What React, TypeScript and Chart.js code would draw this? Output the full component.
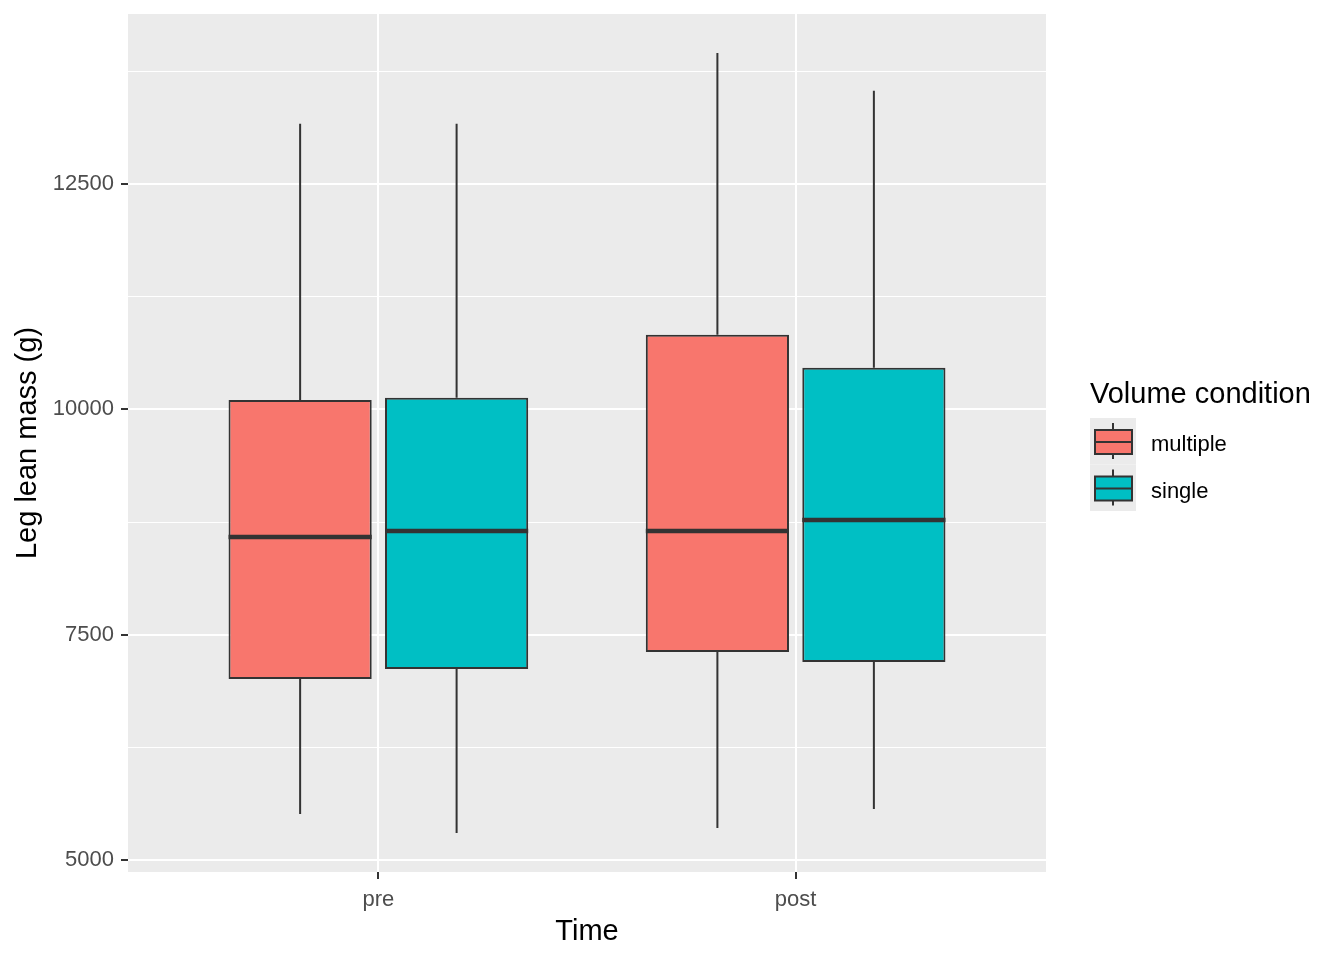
import React, { useEffect, useRef } from 'react';
import { Chart, registerables } from 'chart.js';

Chart.register(...registerables);

// ---- data ----
const times = ['pre', 'post'];
const groups = ['multiple', 'single'];
const groupColors = ['#F8766D', '#00BFC4'];

const multipleLower = [5511, 5355];
const multipleQ1 = [7009, 7309];
const multipleMedian = [8583, 8652];
const multipleQ3 = [10104, 10828];
const multipleUpper = [13170, 13954];

const singleLower = [5300, 5566];
const singleQ1 = [7120, 7198];
const singleMedian = [8652, 8774];
const singleQ3 = [10128, 10461];
const singleUpper = [13170, 13536];

const yMajorTicks = [5000, 7500, 10000, 12500];
const yMinorTicks = [6250, 8750, 11250, 13750];

const xTitle = 'Time';
const yTitle = 'Leg lean mass (g)';
const legendTitle = 'Volume condition';

const stats = [
  { lower: multipleLower, q1: multipleQ1, median: multipleMedian, q3: multipleQ3, upper: multipleUpper },
  { lower: singleLower, q1: singleQ1, median: singleMedian, q3: singleQ3, upper: singleUpper },
];

const FONT = '"Liberation Sans", Arial, sans-serif';
const EDGE = '#333333';
const PANEL = '#EBEBEB';

const allVals = [...multipleLower, ...multipleUpper, ...singleLower, ...singleUpper];
const dMin = Math.min(...allVals);
const dMax = Math.max(...allVals);
const yMin = dMin - 0.05 * (dMax - dMin);
const yMax = dMax + 0.05 * (dMax - dMin);

const boxPlugin = {
  id: 'boxExtras',
  beforeDraw(chart: any) {
    const { ctx, chartArea: a } = chart;
    ctx.save();
    ctx.fillStyle = '#FFFFFF';
    ctx.fillRect(0, 0, chart.width, chart.height);
    ctx.fillStyle = PANEL;
    ctx.fillRect(a.left, a.top, a.right - a.left, a.bottom - a.top);
    ctx.restore();
  },
  beforeDatasetsDraw(chart: any) {
    const { ctx } = chart;
    const y = chart.scales.y;
    ctx.save();
    ctx.strokeStyle = EDGE;
    ctx.lineWidth = 2;
    stats.forEach((s, di) => {
      const meta = chart.getDatasetMeta(di);
      meta.data.forEach((el: any, i: number) => {
        ctx.beginPath();
        ctx.moveTo(el.x, y.getPixelForValue(s.upper[i]));
        ctx.lineTo(el.x, y.getPixelForValue(s.q3[i]));
        ctx.moveTo(el.x, y.getPixelForValue(s.q1[i]));
        ctx.lineTo(el.x, y.getPixelForValue(s.lower[i]));
        ctx.stroke();
      });
    });
    ctx.restore();
  },
  afterDatasetsDraw(chart: any) {
    const { ctx } = chart;
    const y = chart.scales.y;
    ctx.save();
    ctx.strokeStyle = EDGE;
    ctx.lineWidth = 4.5;
    stats.forEach((s, di) => {
      const meta = chart.getDatasetMeta(di);
      meta.data.forEach((el: any, i: number) => {
        const py = y.getPixelForValue(s.median[i]);
        ctx.beginPath();
        ctx.moveTo(el.x - el.width / 2, py);
        ctx.lineTo(el.x + el.width / 2, py);
        ctx.stroke();
      });
    });
    ctx.restore();
  },
  afterDraw(chart: any) {
    const { ctx } = chart;
    ctx.save();
    ctx.fillStyle = '#000000';
    ctx.textBaseline = 'middle';
    ctx.textAlign = 'left';
    ctx.font = `29px ${FONT}`;
    ctx.fillText(legendTitle, 1090, 395);
    const keyX = 1090;
    const keyW = 46;
    const keyH = 46.5;
    const top0 = 418;
    groups.forEach((g, i) => {
      const kt = top0 + i * keyH;
      ctx.fillStyle = PANEL;
      ctx.fillRect(keyX, kt, keyW, keyH);
      const cx = keyX + 23;
      ctx.strokeStyle = EDGE;
      ctx.lineWidth = 2;
      ctx.beginPath();
      ctx.moveTo(cx, kt + 5);
      ctx.lineTo(cx, kt + 12);
      ctx.moveTo(cx, kt + 36);
      ctx.lineTo(cx, kt + 41);
      ctx.stroke();
      ctx.fillStyle = groupColors[i];
      ctx.fillRect(keyX + 5, kt + 12, 37, 24);
      ctx.strokeRect(keyX + 5, kt + 12, 37, 24);
      ctx.beginPath();
      ctx.moveTo(keyX + 5, kt + 24);
      ctx.lineTo(keyX + 42, kt + 24);
      ctx.stroke();
      ctx.fillStyle = '#000000';
      ctx.font = `22px ${FONT}`;
      ctx.fillText(g, 1151, kt + 27);
    });
    ctx.restore();
  },
};

export default function App() {
  const ref = useRef<HTMLCanvasElement>(null);

  useEffect(() => {
    if (!ref.current) return;
    Chart.defaults.font.family = FONT;
    const datasets = groups.map((g, gi) => ({
      label: g,
      data: times.map((_, i) => ({ x: i + 1, y: [stats[gi].q1[i], stats[gi].q3[i]] })),
      backgroundColor: groupColors[gi],
      borderColor: EDGE,
      borderWidth: 2,
      borderSkipped: false,
      categoryPercentage: 0.75,
      barPercentage: 0.915,
    }));

    const chart = new Chart(ref.current, {
      type: 'bar',
      data: { datasets } as any,
      plugins: [boxPlugin],
      options: {
        responsive: false,
        animation: false,
        devicePixelRatio: 1,
        layout: { padding: { left: 0, top: 14, right: 298, bottom: 0 } },
        plugins: { legend: { display: false }, tooltip: { enabled: false } },
        scales: {
          x: {
            type: 'linear',
            min: 0.4,
            max: 2.6,
            offset: false,
            afterBuildTicks: (scale: any) => {
              scale.ticks = times.map((_, i) => ({ value: i + 1 }));
            },
            afterFit: (scale: any) => {
              scale.height = 88;
              scale.paddingLeft = 0;
              scale.paddingRight = 0;
              scale.paddingTop = 0;
              scale.paddingBottom = 0;
            },
            border: { display: false },
            grid: {
              offset: false,
              color: '#FFFFFF',
              lineWidth: 2,
              drawTicks: true,
              tickLength: 7,
              tickWidth: 2,
              tickColor: EDGE,
            },
            ticks: {
              autoSkip: false,
              maxRotation: 0,
              padding: 8,
              color: '#4D4D4D',
              font: { size: 22, family: FONT },
              callback: (v: any) => times[Math.round(Number(v)) - 1] ?? '',
            },
            title: {
              display: true,
              text: xTitle,
              color: '#000000',
              font: { size: 29, family: FONT },
              padding: { top: 0, bottom: 11 },
            },
          },
          y: {
            type: 'linear',
            min: yMin,
            max: yMax,
            afterBuildTicks: (scale: any) => {
              scale.ticks = [...yMajorTicks, ...yMinorTicks]
                .sort((a, b) => a - b)
                .map((v) => ({ value: v }));
            },
            afterFit: (scale: any) => {
              scale.width = 128;
              scale.paddingTop = 0;
              scale.paddingBottom = 0;
              scale.paddingLeft = 0;
              scale.paddingRight = 0;
            },
            border: { display: false },
            grid: {
              color: '#FFFFFF',
              lineWidth: (c: any) => (c.tick && yMajorTicks.includes(c.tick.value) ? 2 : 1),
              tickLength: 7,
              tickWidth: 2,
              tickColor: (c: any) =>
                c.tick && yMajorTicks.includes(c.tick.value) ? EDGE : 'rgba(0,0,0,0)',
            },
            ticks: {
              autoSkip: false,
              padding: 7,
              color: '#4D4D4D',
              font: { size: 22, family: FONT },
              callback: (v: any) => (yMajorTicks.includes(Number(v)) ? String(v) : ''),
            },
            title: {
              display: true,
              text: yTitle,
              color: '#000000',
              font: { size: 29, family: FONT },
              padding: { top: 10.6, bottom: 0 },
            },
          },
        },
      } as any,
    });
    return () => chart.destroy();
  }, []);

  return (
    <div style={{ position: 'absolute', left: 0, top: 0, width: 1344, height: 960 }}>
      <canvas ref={ref} width={1344} height={960} style={{ display: 'block' }} />
    </div>
  );
}
